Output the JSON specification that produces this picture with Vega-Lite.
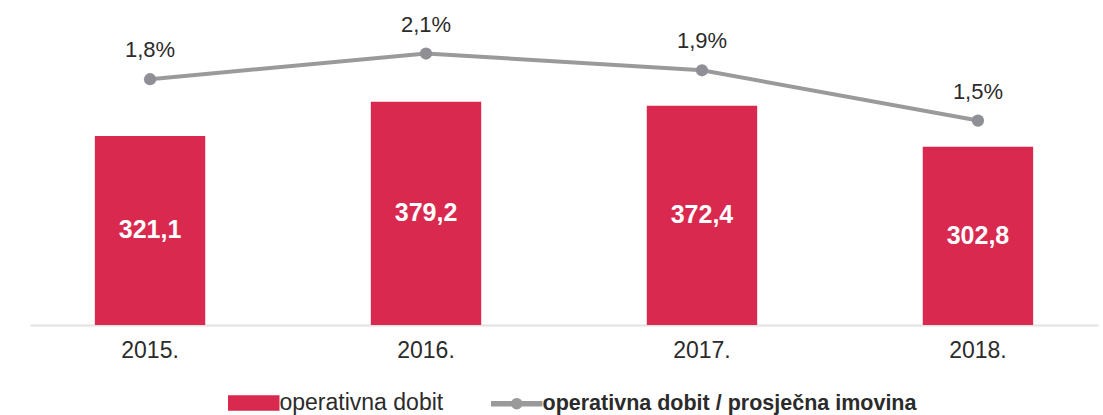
{
  "$schema": "https://vega.github.io/schema/vega-lite/v6.json",
  "width": 1068,
  "height": 305,
  "autosize": {"type": "none"},
  "padding": {"left": 30, "top": 20, "right": 5, "bottom": 90},
  "background": "white",
  "config": {"view": {"stroke": null}, "font": "Liberation Sans"},
  "data": {"values": [
    {"year": "2015.", "dobit": 321.1, "dobitLabel": "321,1", "ratio": 1.87, "ratioLabel": "1,8%"},
    {"year": "2016.", "dobit": 379.2, "dobitLabel": "379,2", "ratio": 2.10, "ratioLabel": "2,1%"},
    {"year": "2017.", "dobit": 372.4, "dobitLabel": "372,4", "ratio": 1.95, "ratioLabel": "1,9%"},
    {"year": "2018.", "dobit": 302.8, "dobitLabel": "302,8", "ratio": 1.50, "ratioLabel": "1,5%"}
  ]},
  "encoding": {
    "x": {
      "field": "year", "type": "nominal", "sort": null,
      "scale": {"paddingInner": 0.6, "paddingOuter": 0.235},
      "axis": {"title": null, "labelAngle": 0, "ticks": false, "domainColor": "#e2e2e2", "domainWidth": 2, "labelFontSize": 23, "labelColor": "#2b2b2b", "labelPadding": 14, "labelFont": "Liberation Sans"}
    }
  },
  "layer": [
    {
      "layer": [
        {
          "mark": {"type": "bar"},
          "encoding": {
            "y": {"field": "dobit", "type": "quantitative", "scale": {"domain": [0, 518]}, "axis": null},
            "color": {
              "datum": "operativna dobit", "type": "nominal",
              "scale": {"domain": ["operativna dobit", "operativna dobit / prosječna imovina"], "range": ["#d9294f", "#9a9a9a"]},
              "legend": {
                "title": null, "orient": "none", "legendX": 193, "legendY": 372, "direction": "horizontal",
                "symbolSize": 100, "labelOffset": 35, "columnPadding": 42, "labelLimit": 700,
                "labelFontSize": 23, "labelColor": "#2b2b2b", "labelFont": "Liberation Sans",
                "encode": {
                  "symbols": {"update": {
                    "shape": {"signal": "datum.value === 'operativna dobit' ? 'M-1,-1.4H9V1.4H-1Z' : 'M-1,-0.4H9V0.4H-1Z M3,0A1,1 0 1,1 5,0A1,1 0 1,1 3,0Z'"},
                    "fill": {"scale": "color", "field": "value"},
                    "stroke": {"value": "transparent"},
                    "opacity": {"value": 1}
                  }},
                  "labels": {"update": {
                    "fontWeight": {"signal": "datum.value === 'operativna dobit' ? 'normal' : 'bold'"},
                    "fontSize": {"signal": "datum.value === 'operativna dobit' ? 23 : 21.5"}
                  }}
                }
              }
            }
          }
        },
        {
          "mark": {"type": "text", "color": "white", "fontWeight": "bold", "fontSize": 25, "baseline": "middle", "font": "Liberation Sans"},
          "encoding": {
            "y": {"field": "dobit", "type": "quantitative", "stack": "zero", "bandPosition": 0.5, "scale": {"domain": [0, 518]}, "axis": null},
            "text": {"field": "dobitLabel"}
          }
        }
      ]
    },
    {
      "layer": [
        {
          "mark": {"type": "line", "strokeWidth": 4},
          "encoding": {
            "y": {"field": "ratio", "type": "quantitative", "scale": {"domain": [-0.33, 2.4]}, "axis": null},
            "color": {"datum": "operativna dobit / prosječna imovina", "type": "nominal"}
          }
        },
        {
          "mark": {"type": "point", "filled": true, "size": 150, "color": "#8e9096", "opacity": 1},
          "encoding": {
            "y": {"field": "ratio", "type": "quantitative", "scale": {"domain": [-0.33, 2.4]}, "axis": null}
          }
        },
        {
          "mark": {"type": "text", "fontSize": 22, "color": "#2b2b2b", "dy": -29, "baseline": "middle", "font": "Liberation Sans"},
          "encoding": {
            "y": {"field": "ratio", "type": "quantitative", "scale": {"domain": [-0.33, 2.4]}, "axis": null},
            "text": {"field": "ratioLabel"}
          }
        }
      ]
    }
  ],
  "resolve": {"scale": {"y": "independent"}}
}
